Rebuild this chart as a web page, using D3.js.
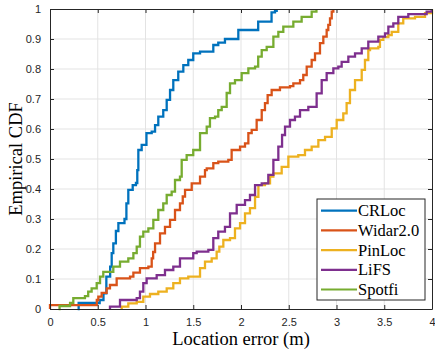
<!DOCTYPE html>
<html>
<head>
<meta charset="utf-8">
<script src="https://cdn.jsdelivr.net/npm/d3@7"></script>
<style>
  body { margin: 0; background: #fff; }
  svg { display: block; }
</style>
</head>
<body>
<svg id="chart" width="435" height="356"></svg>
<script>
// values, [error (m), CDF]
var crloc = [[0.29,0],[0.30,0.02],[0.52,0.03],[0.56,0.052],[0.59,0.108],[0.63,0.141],[0.646,0.186],[0.663,0.219],[0.69,0.26],[0.716,0.286],[0.78,0.30],[0.80,0.352],[0.82,0.397],[0.866,0.413],[0.90,0.42],[0.914,0.463],[0.925,0.53],[0.96,0.547],[1.01,0.586],[1.065,0.591],[1.10,0.613],[1.134,0.641],[1.186,0.663],[1.222,0.697],[1.257,0.73],[1.291,0.763],[1.343,0.791],[1.396,0.813],[1.448,0.83],[1.50,0.852],[1.571,0.858],[1.71,0.88],[1.762,0.888],[1.832,0.9],[1.972,0.93],[2.18,0.958],[2.32,0.989],[2.356,0.994],[2.374,1]];
var widar = [[0,0],[0,0.013],[0.49,0.03],[0.506,0.041],[0.541,0.054],[0.593,0.069],[0.628,0.08],[0.698,0.102],[0.838,0.108],[0.873,0.121],[0.942,0.136],[1.03,0.141],[1.065,0.169],[1.08,0.19],[1.10,0.219],[1.152,0.252],[1.204,0.274],[1.257,0.297],[1.309,0.33],[1.361,0.352],[1.39,0.375],[1.414,0.397],[1.484,0.419],[1.571,0.441],[1.623,0.463],[1.641,0.469],[1.71,0.486],[1.762,0.491],[1.867,0.497],[1.902,0.53],[1.99,0.541],[2.042,0.552],[2.077,0.586],[2.112,0.597],[2.164,0.63],[2.217,0.663],[2.251,0.686],[2.279,0.713],[2.321,0.73],[2.408,0.739],[2.513,0.743],[2.548,0.752],[2.618,0.763],[2.652,0.78],[2.688,0.808],[2.74,0.83],[2.775,0.852],[2.827,0.886],[2.862,0.908],[2.897,0.93],[2.914,0.947],[2.932,0.969],[2.95,0.991],[2.967,1]];
var pinloc = [[0.751,0],[0.751,0.008],[0.82,0.019],[0.908,0.024],[0.977,0.041],[1.047,0.05],[1.134,0.058],[1.222,0.069],[1.291,0.086],[1.361,0.102],[1.448,0.108],[1.571,0.136],[1.623,0.158],[1.693,0.169],[1.745,0.191],[1.773,0.208],[1.815,0.23],[1.885,0.236],[1.937,0.269],[1.99,0.286],[2.042,0.319],[2.094,0.336],[2.147,0.374],[2.182,0.413],[2.251,0.419],[2.304,0.441],[2.339,0.452],[2.426,0.474],[2.496,0.508],[2.60,0.513],[2.67,0.53],[2.74,0.541],[2.81,0.563],[2.88,0.574],[2.95,0.602],[3.002,0.63],[3.071,0.652],[3.106,0.686],[3.141,0.73],[3.194,0.763],[3.264,0.797],[3.298,0.83],[3.333,0.863],[3.351,0.869],[3.438,0.874],[3.455,0.897],[3.49,0.906],[3.543,0.913],[3.578,0.924],[3.647,0.952],[3.699,0.969],[3.822,0.974],[3.927,0.986],[4.0,1]];
var lifs = [[0.628,0],[0.628,0.008],[0.733,0.03],[0.908,0.036],[0.942,0.058],[0.977,0.086],[1.012,0.102],[1.117,0.113],[1.204,0.13],[1.291,0.141],[1.361,0.169],[1.50,0.186],[1.536,0.191],[1.658,0.197],[1.71,0.236],[1.762,0.258],[1.832,0.274],[1.885,0.319],[1.955,0.347],[2.042,0.363],[2.094,0.38],[2.147,0.413],[2.217,0.419],[2.286,0.447],[2.339,0.497],[2.391,0.541],[2.43,0.58],[2.461,0.608],[2.513,0.63],[2.565,0.641],[2.618,0.663],[2.705,0.674],[2.792,0.719],[2.845,0.763],[2.897,0.786],[2.967,0.802],[3.019,0.808],[3.054,0.824],[3.124,0.841],[3.194,0.852],[3.264,0.869],[3.333,0.891],[3.438,0.908],[3.508,0.919],[3.543,0.941],[3.595,0.952],[3.647,0.974],[3.752,0.983],[3.944,0.991],[3.997,1]];
var spotfi = [[0.09,0],[0.10,0.01],[0.21,0.02],[0.244,0.036],[0.366,0.043],[0.40,0.058],[0.436,0.069],[0.489,0.086],[0.524,0.108],[0.558,0.124],[0.663,0.141],[0.733,0.158],[0.82,0.169],[0.873,0.186],[0.908,0.208],[0.942,0.241],[0.977,0.258],[1.03,0.269],[1.082,0.297],[1.134,0.33],[1.186,0.352],[1.222,0.38],[1.274,0.391],[1.309,0.43],[1.361,0.441],[1.379,0.497],[1.431,0.513],[1.50,0.53],[1.571,0.586],[1.641,0.608],[1.675,0.636],[1.728,0.641],[1.762,0.663],[1.798,0.674],[1.85,0.72],[1.885,0.752],[1.937,0.763],[2.007,0.786],[2.077,0.802],[2.147,0.808],[2.18,0.841],[2.217,0.863],[2.269,0.874],[2.339,0.908],[2.391,0.924],[2.443,0.941],[2.548,0.958],[2.635,0.974],[2.74,0.991],[2.79,1]];

var names = ["CRLoc", "Widar2.0", "PinLoc", "LiFS", "Spotfi"];
var colors = ["#0072BD", "#D95319", "#EDB120", "#7E2F8E", "#77AC30"];
var seriesData = [crloc, widar, pinloc, lifs, spotfi];
var xTicks = [0, 0.5, 1, 1.5, 2, 2.5, 3, 3.5, 4];
var yTicks = [0, 0.1, 0.2, 0.3, 0.4, 0.5, 0.6, 0.7, 0.8, 0.9, 1];

var margin = {top: 9, left: 50};
var width = 382, height = 300;
var axisColor = "#262626";

var svg = d3.select("#chart").append("g")
    .attr("transform", "translate(" + margin.left + "," + margin.top + ")");

var x = d3.scaleLinear().domain([0, 4]).range([0, width]);
var y = d3.scaleLinear().domain([0, 1]).range([height, 0]);

// grid
svg.append("g").selectAll("line").data(xTicks.slice(1, -1)).enter().append("line")
    .attr("x1", function(d) { return x(d); }).attr("x2", function(d) { return x(d); })
    .attr("y1", 0).attr("y2", height)
    .attr("stroke", "#e3e3e3").attr("stroke-width", 1);
svg.append("g").selectAll("line").data(yTicks.slice(1, -1)).enter().append("line")
    .attr("y1", function(d) { return y(d); }).attr("y2", function(d) { return y(d); })
    .attr("x1", 0).attr("x2", width)
    .attr("stroke", "#e3e3e3").attr("stroke-width", 1);

// curves
var line = d3.line()
    .x(function(d) { return x(d[0]); })
    .y(function(d) { return y(d[1]); })
    .curve(d3.curveStepAfter);

svg.append("g").selectAll("path")
    .data(seriesData)
    .enter().append("path")
    .attr("d", line)
    .attr("fill", "none")
    .attr("stroke", function(d, i) { return colors[i]; })
    .attr("stroke-width", 2.3);

// axes (ticks pointing inward, mirrored on top/right)
function styleAxis(g) {
    g.selectAll("path").attr("stroke", axisColor);
    g.selectAll("line").attr("stroke", axisColor);
    g.selectAll("text")
        .attr("fill", axisColor)
        .style("font-family", "'Liberation Sans', Arial, sans-serif")
        .style("font-size", "11px");
}

svg.append("g")
    .attr("transform", "translate(0," + height + ")")
    .call(d3.axisBottom(x).tickValues(xTicks).tickFormat(d3.format("")).tickSizeInner(-4).tickSizeOuter(0).tickPadding(9))
    .call(styleAxis);
svg.append("g")
    .call(d3.axisTop(x).tickValues(xTicks).tickFormat("").tickSizeInner(-4).tickSizeOuter(0))
    .call(styleAxis);
svg.append("g")
    .call(d3.axisLeft(y).tickValues(yTicks).tickFormat(d3.format("")).tickSizeInner(-4).tickSizeOuter(0).tickPadding(9))
    .call(styleAxis);
svg.append("g")
    .attr("transform", "translate(" + width + ",0)")
    .call(d3.axisRight(y).tickValues(yTicks).tickFormat("").tickSizeInner(-4).tickSizeOuter(0))
    .call(styleAxis);

// axis labels
svg.append("text")
    .attr("text-anchor", "middle")
    .attr("x", x(2.0))
    .attr("y", height + 36)
    .attr("fill", "#000")
    .style("font-family", "'Liberation Serif', 'Times New Roman', serif")
    .style("font-size", "18.5px")
    .text("Location error (m)");

svg.append("text")
    .attr("text-anchor", "middle")
    .attr("transform", "rotate(-90)")
    .attr("x", -height / 2)
    .attr("y", -margin.left + 22)
    .attr("fill", "#000")
    .style("font-family", "'Liberation Serif', 'Times New Roman', serif")
    .style("font-size", "18.5px")
    .text("Empirical CDF");

// legend
var lg = svg.append("g").attr("transform", "translate(" + (317 - margin.left) + "," + (199 - margin.top) + ")");
lg.append("rect")
    .attr("width", 108).attr("height", 101)
    .attr("fill", "#fff").attr("stroke", axisColor).attr("stroke-width", 1);

var entry = lg.selectAll(".legend")
    .data(names)
    .enter().append("g")
    .attr("class", "legend")
    .attr("transform", function(d, i) { return "translate(0," + (11.7 + i * 19.7) + ")"; });

entry.append("line")
    .attr("x1", 4).attr("x2", 40)
    .attr("stroke", function(d, i) { return colors[i]; })
    .attr("stroke-width", 2.2);

entry.append("text")
    .attr("x", 41)
    .attr("dy", "0.33em")
    .attr("fill", "#000")
    .style("font-family", "'Liberation Serif', 'Times New Roman', serif")
    .style("font-size", "16.5px")
    .text(function(d) { return d; });
</script>
</body>
</html>
